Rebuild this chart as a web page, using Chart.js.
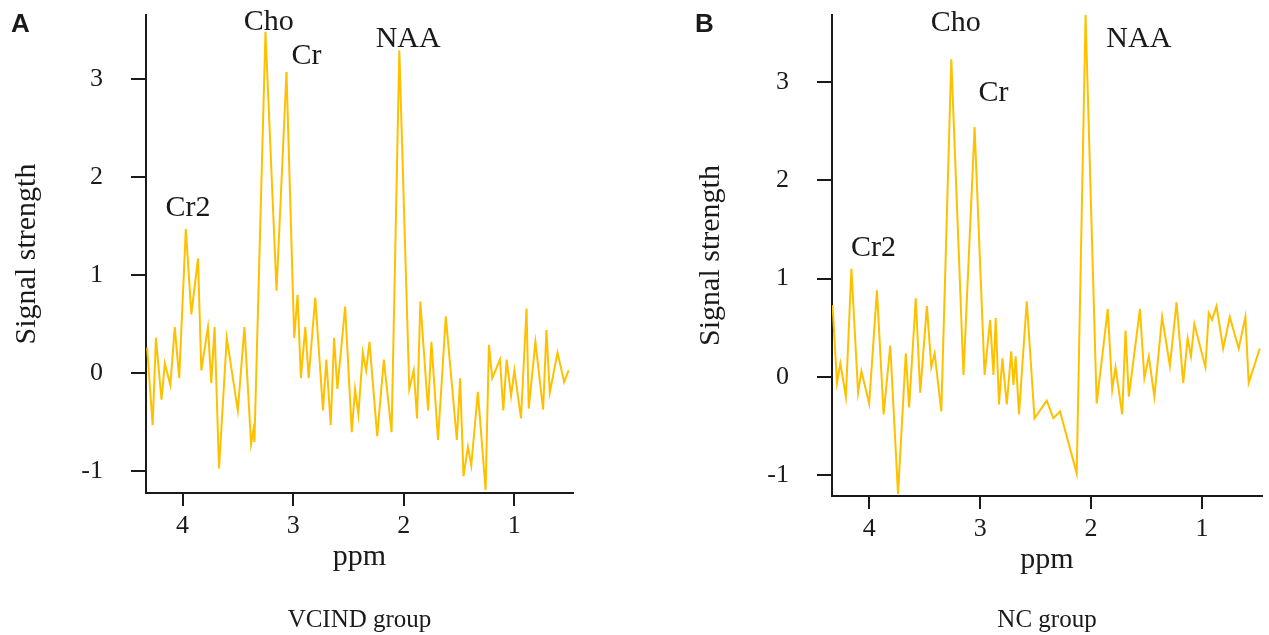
<!DOCTYPE html>
<html>
<head>
  <title>MRS spectra - VCIND vs NC</title>
  <script src="https://cdn.jsdelivr.net/npm/chart.js"></script>
  <style>
    body {
      margin: 0;
      background: #fff;
    }

    .figure {
      position: relative;
      width: 1269px;
      height: 635px;
      background: #fff;
    }

    canvas {
      position: absolute;
      top: 0;
    }
  </style>
</head>
<body>
  <div class="figure">
    <canvas id="chartA" width="634" height="635" style="left:0"></canvas>
    <canvas id="chartB" width="585" height="635" style="left:684px"></canvas>
  </div>

  <script>
    // panel A - VCIND group
    const ppmA = [4.32, 4.27, 4.24, 4.19, 4.16, 4.11, 4.07, 4.03, 3.97, 3.92,
                  3.86, 3.83, 3.77, 3.74, 3.71, 3.67, 3.60, 3.50, 3.44, 3.38,
                  3.36, 3.35, 3.25, 3.15, 3.06, 2.99, 2.96, 2.93, 2.89, 2.86,
                  2.80, 2.73, 2.70, 2.66, 2.63, 2.60, 2.53, 2.47, 2.44, 2.41,
                  2.37, 2.34, 2.31, 2.24, 2.18, 2.11, 2.04, 1.95, 1.91, 1.88,
                  1.85, 1.78, 1.75, 1.69, 1.62, 1.52, 1.49, 1.46, 1.42, 1.39,
                  1.33, 1.26, 1.23, 1.20, 1.13, 1.10, 1.07, 1.03, 1.00, 0.94,
                  0.89, 0.87, 0.81, 0.74, 0.71, 0.68, 0.61, 0.55, 0.51];
    const signalA = [0.26, -0.53, 0.36, -0.27, 0.10, -0.12, 0.47, -0.05, 1.47, 0.60,
                     1.17, 0.03, 0.47, -0.10, 0.47, -0.97, 0.36, -0.38, 0.47, -0.72,
                     -0.58, -0.70, 3.48, 0.84, 3.07, 0.36, 0.80, -0.05, 0.47, -0.05,
                     0.77, -0.38, 0.14, -0.53, 0.36, -0.16, 0.68, -0.60, -0.16, -0.42,
                     0.21, 0.03, 0.32, -0.64, 0.14, -0.60, 3.29, -0.16, 0.03, -0.46,
                     0.73, -0.38, 0.32, -0.68, 0.58, -0.68, -0.05, -1.05, -0.75, -0.94,
                     -0.19, -1.19, 0.29, -0.05, 0.14, -0.38, 0.14, -0.23, 0.03, -0.46,
                     0.66, -0.36, 0.32, -0.37, 0.44, -0.20, 0.21, -0.09, 0.03];

    // panel B - NC group
    const ppmB = [4.33, 4.29, 4.26, 4.21, 4.16, 4.10, 4.07, 4.00, 3.93, 3.87,
                  3.81, 3.74, 3.67, 3.64, 3.58, 3.54, 3.48, 3.44, 3.41, 3.35,
                  3.26, 3.15, 3.05, 2.96, 2.91, 2.88, 2.86, 2.83, 2.80, 2.76,
                  2.72, 2.70, 2.68, 2.65, 2.58, 2.51, 2.40, 2.34, 2.28, 2.13,
                  2.05, 1.95, 1.85, 1.81, 1.78, 1.72, 1.69, 1.66, 1.56, 1.52,
                  1.48, 1.43, 1.36, 1.29, 1.23, 1.17, 1.13, 1.10, 1.07, 0.97,
                  0.94, 0.91, 0.87, 0.81, 0.75, 0.67, 0.61, 0.58, 0.48];
    const signalB = [0.73, -0.06, 0.14, -0.20, 1.10, -0.16, 0.06, -0.27, 0.88, -0.38,
                     0.32, -1.19, 0.24, -0.31, 0.80, -0.16, 0.72, 0.10, 0.24, -0.35,
                     3.23, 0.02, 2.54, 0.02, 0.58, 0.02, 0.60, -0.28, 0.19, -0.28,
                     0.26, -0.08, 0.21, -0.38, 0.77, -0.42, -0.24, -0.42, -0.35, -0.98,
                     3.68, -0.27, 0.69, -0.13, 0.10, -0.38, 0.47, -0.20, 0.69, -0.01,
                     0.21, -0.20, 0.61, 0.11, 0.76, -0.06, 0.39, 0.21, 0.54, 0.10,
                     0.65, 0.58, 0.72, 0.29, 0.61, 0.29, 0.61, -0.06, 0.29];

    // ticks
    const xTickValues = [4, 3, 2, 1];
    const yTickValues = [-1, 0, 1, 2, 3];

    // peak labels (placed in data units)
    const peakNames = ['Cho', 'Cr', 'NAA', 'Cr2'];
    const peakPpmA = [3.22, 2.88, 1.96, 3.95];
    const peakLevelA = [3.58, 3.23, 3.40, 1.68];
    const peakPpmB = [3.22, 2.88, 1.57, 3.96];
    const peakLevelB = [3.60, 2.89, 3.43, 1.31];

    const serif = '"Liberation Serif", "Times New Roman", serif';
    const lineColor = '#FFC000';
    const inkColor = '#1a1a1a';

    const extraTextPlugin = {
      id: 'extraText',
      afterDraw(chart, args, opts) {
        const ctx = chart.ctx;
        const xs = chart.scales.x;
        const ys = chart.scales.y;
        const area = chart.chartArea;
        ctx.save();
        ctx.fillStyle = inkColor;
        ctx.textAlign = 'center';
        ctx.textBaseline = 'middle';
        ctx.font = '30px ' + serif;
        opts.names.forEach((name, i) => {
          ctx.fillText(name, xs.getPixelForValue(opts.ppm[i]), ys.getPixelForValue(opts.level[i]));
        });
        // group caption under the axis
        ctx.font = '25px ' + serif;
        ctx.fillText(opts.group, (area.left + area.right) / 2, 620);
        // panel letter
        ctx.font = 'bold 26px "Liberation Sans", Arial, sans-serif';
        ctx.textAlign = 'left';
        ctx.textBaseline = 'alphabetic';
        ctx.fillText(opts.letter, 11, 32);
        ctx.restore();
      }
    };

    function createChart(canvasId, ppm, signal, panel) {
      const ctx = document.getElementById(canvasId).getContext('2d');
      const points = ppm.map((p, i) => ({ x: p, y: signal[i] }));

      return new Chart(ctx, {
        type: 'line',
        data: {
          datasets: [{
            data: points,
            borderColor: lineColor,
            borderWidth: 2,
            pointRadius: 0,
            tension: 0,
            fill: false
          }]
        },
        options: {
          responsive: false,
          animation: false,
          devicePixelRatio: 1,
          layout: {
            padding: { top: 15, right: panel.padRight, bottom: 0, left: 0 }
          },
          plugins: {
            legend: { display: false },
            tooltip: { enabled: false },
            extraText: {
              names: peakNames,
              ppm: panel.peakPpm,
              level: panel.peakLevel,
              group: panel.group,
              letter: panel.letter
            }
          },
          scales: {
            x: {
              type: 'linear',
              reverse: true,
              min: panel.xMin,
              max: panel.xMax,
              afterBuildTicks: scale => {
                scale.ticks = xTickValues.map(v => ({ value: v }));
              },
              afterFit: scale => {
                scale.height = 635 - panel.plotBottom;
                scale.paddingLeft = 0;
                scale.paddingRight = 0;
              },
              border: { display: true, color: inkColor, width: 2 },
              grid: {
                drawOnChartArea: false,
                drawTicks: true,
                tickLength: 13,
                color: inkColor,
                lineWidth: 2
              },
              ticks: {
                color: inkColor,
                padding: 5,
                maxRotation: 0,
                font: { family: serif, size: 26 },
                callback: value => String(value)
              },
              title: {
                display: true,
                text: 'ppm',
                color: inkColor,
                font: { family: serif, size: 30 },
                padding: { top: 0, bottom: panel.ppmOffset }
              }
            },
            y: {
              type: 'linear',
              min: panel.yMin,
              max: panel.yMax,
              afterBuildTicks: scale => {
                scale.ticks = yTickValues.map(v => ({ value: v }));
              },
              afterFit: scale => {
                scale.width = panel.axisWidth;
                scale.paddingTop = 0;
                scale.paddingBottom = 0;
              },
              border: { display: true, color: inkColor, width: 2 },
              grid: {
                drawOnChartArea: false,
                drawTicks: true,
                tickLength: 15,
                color: inkColor,
                lineWidth: 2
              },
              ticks: {
                color: inkColor,
                padding: 28,
                font: { family: serif, size: 26 },
                callback: value => String(value)
              },
              title: {
                display: true,
                text: 'Signal strength',
                color: inkColor,
                font: { family: serif, size: 30 },
                padding: { top: 9, bottom: 0 }
              }
            }
          }
        },
        plugins: [extraTextPlugin]
      });
    }

    window.onload = function() {
      createChart('chartA', ppmA, signalA, {
        letter: 'A', group: 'VCIND group',
        axisWidth: 146, plotBottom: 493, padRight: 61, ppmOffset: 60,
        xMin: 0.47, xMax: 4.33, yMin: -1.22, yMax: 3.65,
        peakPpm: peakPpmA, peakLevel: peakLevelA
      });
      createChart('chartB', ppmB, signalB, {
        letter: 'B', group: 'NC group',
        axisWidth: 148, plotBottom: 496, padRight: 7, ppmOffset: 57,
        xMin: 0.46, xMax: 4.335, yMin: -1.21, yMax: 3.68,
        peakPpm: peakPpmB, peakLevel: peakLevelB
      });
    };
  </script>
</body>
</html>
